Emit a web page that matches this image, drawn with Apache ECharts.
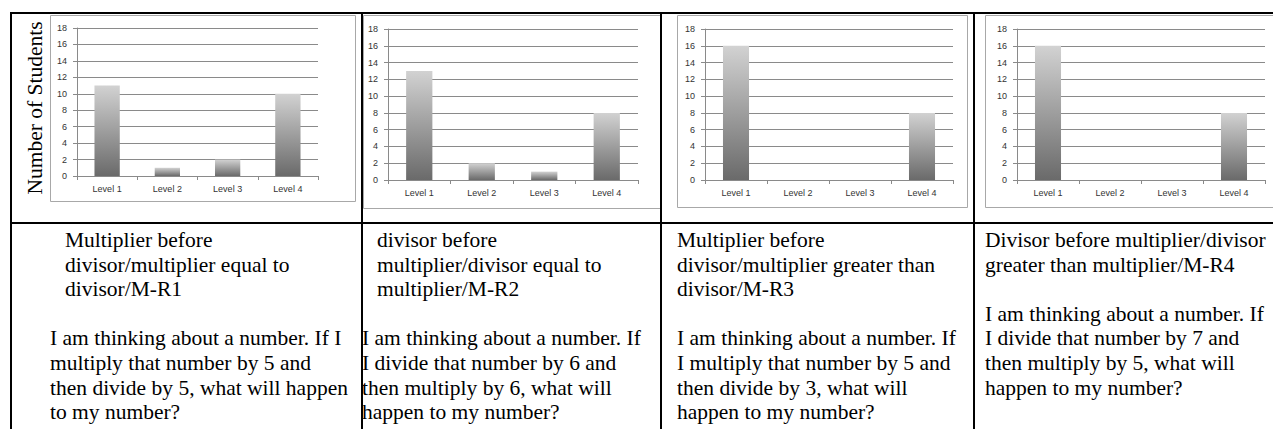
<!DOCTYPE html>
<html>
<head>
<meta charset="utf-8">
<script src="https://cdn.jsdelivr.net/npm/echarts@6/dist/echarts.min.js"></script>
<style>
html,body{margin:0;padding:0;background:#fff;}
#main{width:1273px;height:429px;}
</style>
</head>
<body>
<div id="main"></div>
<script>
// ---- data ----
var categories = ['Level 1', 'Level 2', 'Level 3', 'Level 4'];
var valuesMR1 = [11, 1, 2, 10];
var valuesMR2 = [13, 2, 1, 8];
var valuesMR3 = [16, 0, 0, 8];
var valuesMR4 = [16, 0, 0, 8];
var yMin = 0, yMax = 18, yStep = 2;
var yAxisTitle = 'Number of Students';

var headerMR1 = ['Multiplier before', 'divisor/multiplier equal to', 'divisor/M-R1'];
var headerMR2 = ['divisor before', 'multiplier/divisor equal to', 'multiplier/M-R2'];
var headerMR3 = ['Multiplier before', 'divisor/multiplier greater than', 'divisor/M-R3'];
var headerMR4 = ['Divisor before multiplier/divisor', 'greater than multiplier/M-R4'];

var questionMR1 = ['I am thinking about a number. If I', 'multiply that number by 5 and', 'then divide by 5, what will happen', 'to my number?'];
var questionMR2 = ['I am thinking about a number. If', 'I divide that number by 6 and', 'then multiply by 6, what will', 'happen to my number?'];
var questionMR3 = ['I am thinking about a number. If', 'I multiply that number by 5 and', 'then divide by 3, what will', 'happen to my number?'];
var questionMR4 = ['I am thinking about a number. If', 'I divide that number by 7 and', 'then multiply by 5, what will', 'happen to my number?'];

// ---- layout ----
var chart = echarts.init(document.getElementById('main'), null, {renderer: 'svg', width: 1273, height: 429});

var panels = [
  {values: valuesMR1, grid: {left: 77, top: 28, width: 241, height: 148}, frame: [50, 15, 305, 186],
   header: headerMR1, question: questionMR1, hx: 65, qx: 50, title: true},
  {values: valuesMR2, grid: {left: 388, top: 29, width: 250, height: 151}, frame: [363, 15, 297, 193],
   header: headerMR2, question: questionMR2, hx: 377, qx: 362},
  {values: valuesMR3, grid: {left: 705, top: 29, width: 248, height: 151}, frame: [677, 15, 290, 192],
   header: headerMR3, question: questionMR3, hx: 677, qx: 677},
  {values: valuesMR4, grid: {left: 1017, top: 29, width: 248, height: 151}, frame: [985, 15, 300, 192],
   header: headerMR4, question: questionMR4, hx: 985, qx: 985}
];

var axisColor = '#8a8a8a';
var barGradient = new echarts.graphic.LinearGradient(0, 0, 0, 1, [
  {offset: 0, color: '#d2d2d2'},
  {offset: 1, color: '#6a6a6a'}
]);
var textFont = '21.5px "Liberation Serif"';

var grids = [], xAxes = [], yAxes = [], series = [], graphics = [];

panels.forEach(function (p, i) {
  grids.push(p.grid);
  xAxes.push({
    type: 'category', gridIndex: i, data: categories,
    axisLine: {lineStyle: {color: axisColor, width: 1}},
    axisTick: {show: true, length: 4, lineStyle: {color: axisColor}},
    axisLabel: {fontFamily: 'Liberation Sans', fontSize: 9, color: '#333', margin: 8}
  });
  yAxes.push({
    type: 'value', gridIndex: i, min: yMin, max: yMax, interval: yStep,
    axisLine: {show: true, lineStyle: {color: axisColor, width: 1}},
    axisTick: {show: true, length: 4, lineStyle: {color: axisColor}},
    axisLabel: {fontFamily: 'Liberation Sans', fontSize: 9, color: '#333', margin: 10},
    splitLine: {show: true, lineStyle: {color: axisColor, width: 1}},
    name: p.title ? yAxisTitle : '',
    nameLocation: 'middle', nameRotate: 90, nameGap: 31,
    nameTextStyle: {fontFamily: 'Liberation Serif', fontSize: 21.5, color: '#000', padding: [0, 12, 0, 0]}
  });
  series.push({
    type: 'bar', xAxisIndex: i, yAxisIndex: i, data: p.values,
    barWidth: '42%',
    itemStyle: {color: barGradient},
    silent: true
  });
  graphics.push({
    type: 'rect', shape: {x: p.frame[0] + 0.5, y: p.frame[1] + 0.5, width: p.frame[2], height: p.frame[3]},
    style: {fill: 'none', stroke: '#a8a8a8', lineWidth: 1}, z: -1
  });
  var lineH = 24.6, y0 = 240;
  p.header.forEach(function (t, k) {
    graphics.push({type: 'text', style: {text: t, x: p.hx, y: y0 + k * lineH, font: textFont, fill: '#000', verticalAlign: 'middle', textVerticalAlign: 'middle'}});
  });
  var qStart = p.header.length + 1;
  p.question.forEach(function (t, k) {
    graphics.push({type: 'text', style: {text: t, x: p.qx, y: y0 + (qStart + k) * lineH, font: textFont, fill: '#000', verticalAlign: 'middle', textVerticalAlign: 'middle'}});
  });
});

// table borders
function hline(y, x1, x2) {
  graphics.push({type: 'line', shape: {x1: x1, y1: y, x2: x2, y2: y}, style: {stroke: '#000', lineWidth: 2}, z: 10});
}
function vline(x, y1, y2) {
  graphics.push({type: 'line', shape: {x1: x, y1: y1, x2: x, y2: y2}, style: {stroke: '#000', lineWidth: 2}, z: 10});
}
hline(13, 10, 1273);
hline(223, 10, 1273);
vline(11, 12, 429);
vline(362, 12, 429);
vline(661, 12, 429);
vline(974, 12, 429);

chart.setOption({
  animation: false,
  backgroundColor: '#fff',
  grid: grids,
  xAxis: xAxes,
  yAxis: yAxes,
  series: series,
  graphic: {elements: graphics}
});
</script>
</body>
</html>
